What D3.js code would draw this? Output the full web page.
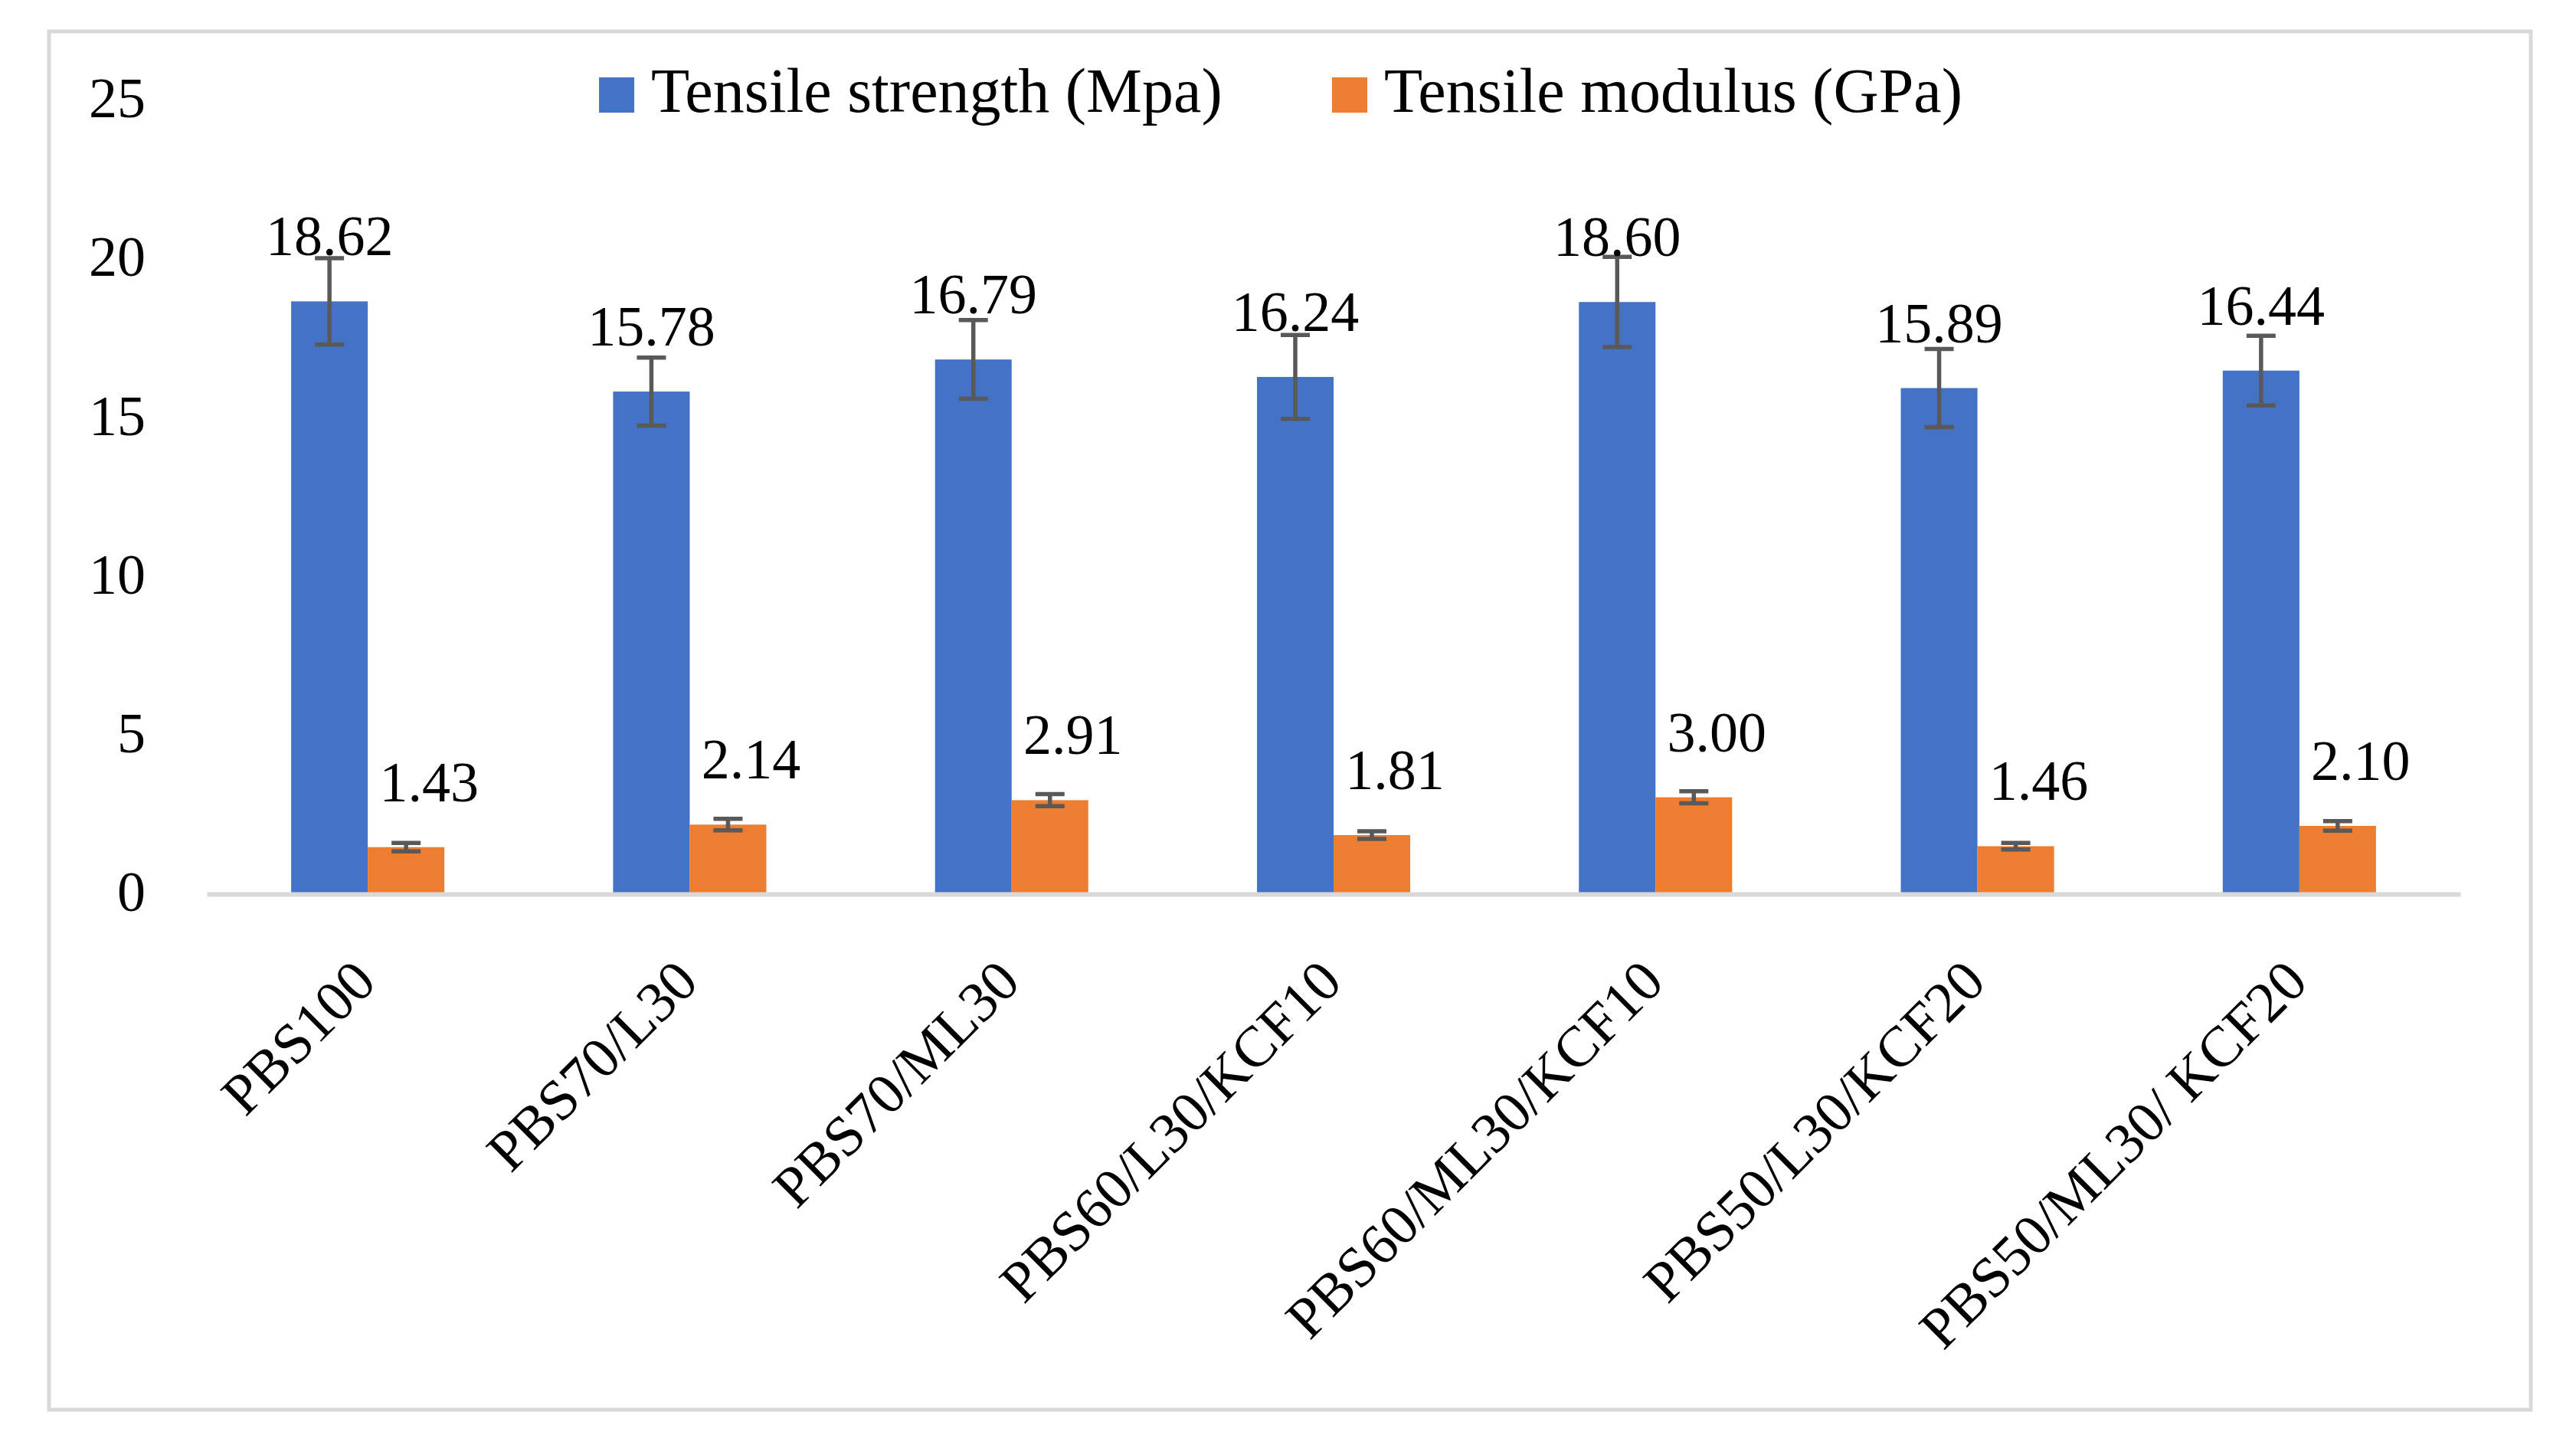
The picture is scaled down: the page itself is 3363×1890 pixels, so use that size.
<!DOCTYPE html>
<html>
<head>
<meta charset="utf-8">
<script src="https://cdn.jsdelivr.net/npm/d3@7"></script>
<style>
  body { margin: 0; background: #fff; }
  text { font-family: "Palatino Linotype", "Book Antiqua", Palatino, "Liberation Serif", serif; fill: #000; }
</style>
</head>
<body>
<div id="wrapper"></div>
<script>
const categories = ["PBS100", "PBS70/L30", "PBS70/ML30", "PBS60/L30/KCF10", "PBS60/ML30/KCF10", "PBS50/L30/KCF20", "PBS50/ML30/ KCF20"]
const seriesNames = ["Tensile strength (Mpa)", "Tensile modulus (GPa)"]
const strength = [18.62, 15.78, 16.79, 16.24, 18.60, 15.89, 16.44]
const strengthErr = [1.36, 1.07, 1.24, 1.32, 1.42, 1.23, 1.10]
const modulus = [1.43, 2.14, 2.91, 1.81, 3.00, 1.46, 2.10]
const modulusErr = [0.13, 0.18, 0.19, 0.12, 0.19, 0.10, 0.15]
const yTicks = [0, 5, 10, 15, 20, 25]

const colors = ["#4472C4", "#ED7D31"]

const dimensions = {
  width: 3363,
  height: 1890,
  plot: { left: 270, right: 3212, top: 129, bottom: 1165 }
}

const svg = d3.select("#wrapper")
  .append("svg")
  .attr("width", dimensions.width)
  .attr("height", dimensions.height)

// chart area border
svg.append("rect")
  .attr("x", 64).attr("y", 41)
  .attr("width", 3304 - 64).attr("height", 1840 - 41)
  .attr("fill", "#fff")
  .attr("stroke", "#d9d9d9")
  .attr("stroke-width", 5)

const xScale = d3.scaleBand()
  .domain(categories)
  .range([dimensions.plot.left, dimensions.plot.right])
  .paddingInner(0.524)
  .paddingOuter(0.262)

const subScale = d3.scaleBand()
  .domain([0, 1])
  .range([0, xScale.bandwidth()])

const yScale = d3.scaleLinear()
  .domain([0, 25])
  .range([dimensions.plot.bottom, dimensions.plot.top])

const table = [
  { values: strength, errors: strengthErr, labelShift: 0 },
  { values: modulus, errors: modulusErr, labelShift: 30 }
]

// y axis labels
const yAxis = svg.append("g")
  .attr("transform", "translate(190,0)")
  .call(d3.axisLeft(yScale).tickValues(yTicks).tickSize(0).tickPadding(0))
yAxis.select(".domain").remove()
yAxis.selectAll("text")
  .attr("font-size", 74)
  .attr("font-family", null)
  .attr("fill", "#000")

// bars
table.forEach((s, si) => {
  svg.append("g").selectAll("rect")
    .data(categories)
    .join("rect")
    .attr("x", d => xScale(d) + subScale(si))
    .attr("y", (d, i) => yScale(s.values[i]))
    .attr("width", subScale.bandwidth())
    .attr("height", (d, i) => yScale(0) - yScale(s.values[i]))
    .attr("fill", colors[si])
})

// x axis line + rotated labels
const xAxis = svg.append("g")
  .attr("transform", `translate(0,${dimensions.plot.bottom + 2})`)
  .call(d3.axisBottom(xScale).tickSize(0).tickSizeOuter(0))
xAxis.select(".domain")
  .attr("stroke", "#d9d9d9")
  .attr("stroke-width", 6)
xAxis.selectAll("text")
  .attr("font-size", 75)
  .attr("font-family", null)
  .attr("fill", "#000")
  .attr("y", 0)
  .attr("dy", 0)
  .attr("text-anchor", "end")
  .attr("transform", "translate(14,118) rotate(-45)")

// error bars
table.forEach((s, si) => {
  const g = svg.append("g").attr("stroke", "#595959").attr("stroke-width", 5.5)
  categories.forEach((c, i) => {
    const cx = xScale(c) + subScale(si) + subScale.bandwidth() / 2
    const hi = yScale(s.values[i] + s.errors[i])
    const lo = yScale(s.values[i] - s.errors[i])
    g.append("line").attr("x1", cx).attr("x2", cx).attr("y1", hi).attr("y2", lo)
    g.append("line").attr("x1", cx - 19).attr("x2", cx + 19).attr("y1", hi).attr("y2", hi)
    g.append("line").attr("x1", cx - 19).attr("x2", cx + 19).attr("y1", lo).attr("y2", lo)
  })
})

// data labels
table.forEach((s, si) => {
  svg.append("g").selectAll("text")
    .data(categories)
    .join("text")
    .attr("x", d => xScale(d) + subScale(si) + subScale.bandwidth() / 2 + s.labelShift)
    .attr("y", (d, i) => yScale(s.values[i]) - 60)
    .attr("text-anchor", "middle")
    .attr("font-size", 74)
    .text((d, i) => d3.format(".2f")(s.values[i]))
})

// legend
const legendX = [782, 1739]
const legend = svg.append("g")
seriesNames.forEach((name, i) => {
  legend.append("rect")
    .attr("x", legendX[i]).attr("y", 101)
    .attr("width", 46).attr("height", 46)
    .attr("fill", colors[i])
  legend.append("text")
    .attr("x", legendX[i] + 68).attr("y", 146)
    .attr("font-size", 82)
    .text(name)
})
</script>
</body>
</html>
